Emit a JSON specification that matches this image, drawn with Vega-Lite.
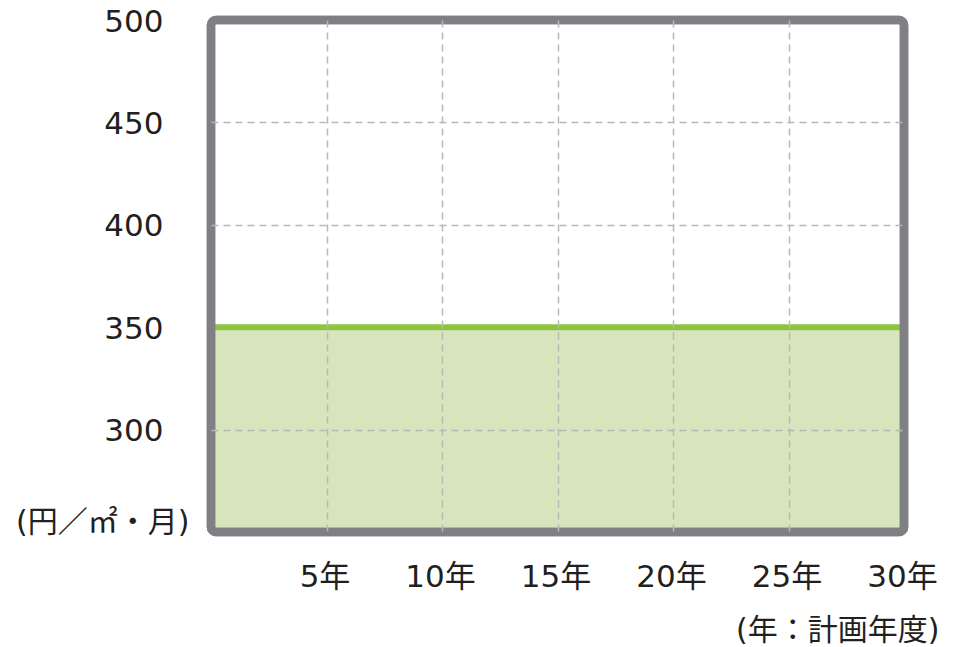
{
  "$schema": "https://vega.github.io/schema/vega-lite/v6.json",
  "width": 693,
  "height": 512,
  "autosize": "none",
  "padding": {"left": 211, "top": 20, "right": 54, "bottom": 115},
  "background": "white",
  "config": {
    "view": {"stroke": null},
    "axis": {
      "labelFont": "DejaVu Sans, Noto Sans CJK JP",
      "titleFont": "DejaVu Sans, Noto Sans CJK JP",
      "labelColor": "#231f20",
      "titleColor": "#231f20"
    }
  },
  "data": {
    "values": [
      {"year": 0, "cost": 350},
      {"year": 30, "cost": 350}
    ]
  },
  "layer": [
    {
      "mark": {"type": "area", "color": "#d6e5bb"},
      "encoding": {
        "x": {
          "field": "year",
          "type": "quantitative",
          "scale": {"domain": [0, 30], "nice": false, "zero": false},
          "axis": {
            "values": [0, 5, 10, 15, 20, 25, 30],
            "labelExpr": "datum.value == 0 ? '' : datum.value + '年'",
            "labelFontSize": 31,
            "labelPadding": 45,
            "labelBaseline": "middle",
            "labelFlush": false,
            "labelOffset": -2,
            "ticks": false,
            "domain": false,
            "grid": true,
            "gridColor": "#b8b8b8",
            "gridWidth": 1.5,
            "gridDash": [7, 5],
            "gridOpacity": {"condition": {"test": "datum.value == 0 || datum.value == 30", "value": 0}, "value": 1},
            "zindex": 1,
            "title": "(年：計画年度)",
            "titleFontSize": 30,
            "titleFontWeight": "normal",
            "titleAlign": "right",
            "titleBaseline": "middle",
            "titleX": 728,
            "titleY": 98
          }
        },
        "y": {
          "field": "cost",
          "type": "quantitative",
          "scale": {"domain": [250, 500], "nice": false, "zero": false},
          "axis": {
            "values": [300, 350, 400, 450, 500],
            "labelFontSize": 31,
            "labelPadding": 48,
            "labelBaseline": "middle",
            "labelFlush": false,
            "labelOffset": 2,
            "ticks": false,
            "domain": false,
            "grid": true,
            "gridColor": "#b8b8b8",
            "gridWidth": 1.5,
            "gridDash": [7, 5],
            "gridOpacity": {"condition": {"test": "datum.value == 350 || datum.value == 500", "value": 0}, "value": 1},
            "zindex": 1,
            "title": "(円／㎡・月)",
            "titleFontSize": 30,
            "titleFontWeight": "normal",
            "titleAngle": 0,
            "titleAlign": "right",
            "titleBaseline": "middle",
            "titleX": -22,
            "titleY": 502
          }
        },
        "y2": {"datum": 250}
      }
    },
    {
      "mark": {"type": "line", "color": "#8dc540", "strokeWidth": 6, "strokeCap": "butt"},
      "encoding": {
        "x": {"field": "year", "type": "quantitative"},
        "y": {"field": "cost", "type": "quantitative"}
      }
    },
    {
      "mark": {"type": "rect", "filled": false, "stroke": "#7f7f84", "strokeWidth": 8.5, "cornerRadius": 5},
      "encoding": {
        "x": {"datum": 0},
        "x2": {"datum": 30},
        "y": {"datum": 250},
        "y2": {"datum": 500}
      }
    }
  ]
}
